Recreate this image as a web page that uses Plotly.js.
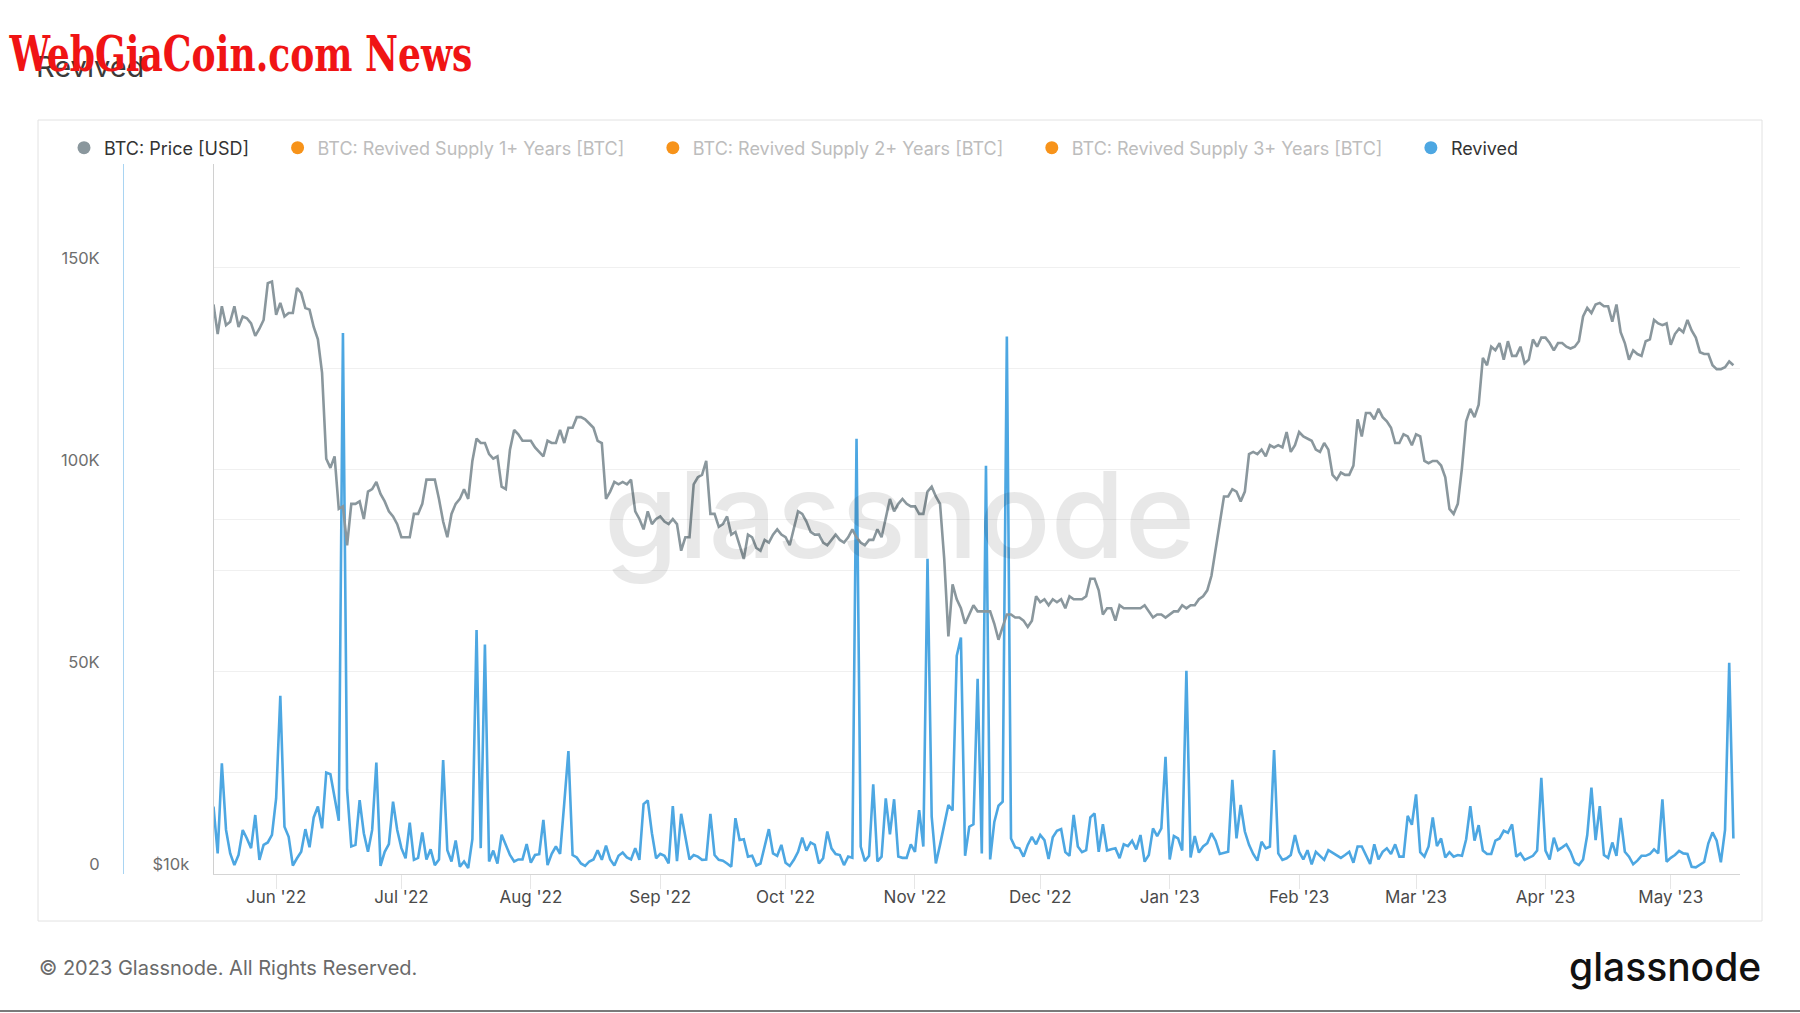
<!DOCTYPE html>
<html><head><meta charset="utf-8">
<script src="https://cdn.plot.ly/plotly-3.0.1.min.js"></script>
<style>html,body{margin:0;padding:0;background:#fff;}#chart{width:1800px;height:1013px;}</style>
</head><body><div id="chart"></div><script>
// ---- DATA ----
const startDate = '2022-05-17'; // first daily observation
const monthTicks = ['2022-06-01','2022-07-01','2022-08-01','2022-09-01','2022-10-01','2022-11-01','2022-12-01','2023-01-01','2023-02-01','2023-03-01','2023-04-01','2023-05-01'];
const monthLabels = ["Jun '22","Jul '22","Aug '22","Sep '22","Oct '22","Nov '22","Dec '22","Jan '23","Feb '23","Mar '23","Apr '23","May '23"];

// BTC: Price [USD], daily
const priceMay22 = [30400,28700,30300,29200,29400,30300,29100,29700,29600,29300,28600,29000,29500,31700,31800];
const priceJun22 = [29800,30500,29700,29900,29900,31400,31100,30200,30100,29100,28400,26600,22500,22100,22600,20400,20500,19000,20600,20600,20700,20000,21100,21200,21500,21000,20700,20300,20100,19800];
const priceJul22 = [19300,19300,19300,20200,20200,20600,21600,21600,21600,20800,19900,19300,20200,20600,20800,21200,20800,22400,23400,23200,23200,22700,22500,22600,21300,21200,22900,23800,23600,23300,23300];
const priceAug22 = [23300,23000,22800,22600,23300,23200,23200,23800,23200,23900,23900,24400,24400,24300,24100,23900,23300,23200,20800,21100,21500,21400,21500,21400,21600,20300,20000,19600,20300,19800,20000];
const priceSep22 = [20100,19900,19800,20000,19800,18800,19300,19300,21400,21700,21800,22400,20200,20200,19700,19800,20100,19400,19500,19000,18500,19400,19300,18900,18800,19200,19100,19400,19600,19400];
const priceOct22 = [19300,19000,19600,20300,20200,19900,19500,19400,19400,19100,19000,19200,19400,19200,19100,19300,19600,19300,19100,19000,19200,19200,19600,19300,20100,20800,20300,20600,20800,20600,20500];
const priceNov22 = [20500,20200,20200,21100,21300,20900,20600,18500,15900,17600,17100,16800,16300,16600,16900,16700,16700,16700,16700,16300,15800,16200,16600,16600,16500,16500,16400,16200,16400,17200];
const priceDec22 = [17000,17100,16900,17100,17000,17100,16800,17200,17100,17100,17100,17200,17800,17800,17400,16600,16800,16800,16400,16900,16800,16800,16800,16800,16800,16900,16700,16500,16600,16600,16500];
const priceJan23 = [16600,16700,16700,16900,16800,16900,16900,17100,17200,17400,17900,18800,19900,20900,20900,21200,21100,20700,21100,22700,22800,22700,22900,22600,23100,23000,23100,23000,23700,22800,23100];
const priceFeb23 = [23700,23500,23400,23300,22900,22800,23200,22900,21800,21600,21900,21800,21800,22200,24300,23500,24600,24600,24300,24800,24400,24200,23900,23200,23200,23600,23500,23100];
const priceMar23 = [23600,23500,22400,22300,22400,22400,22200,21700,20400,20200,20600,22100,24200,24800,24400,25000,27400,27000,28000,27800,28200,27300,28300,27500,27500,28000,27100,27300,28400,28000,28500];
const priceApr23 = [28500,28200,27800,28200,28200,28000,27900,28000,28300,29700,30200,29900,30400,30500,30300,30300,29400,30400,28800,28200,27300,27800,27600,27500,28300,28400,29500,29300,29200,29300];
const priceMay23 = [28100,28700,29000,28800,29500,28900,28500,27700,27600,27600,27000,26800,26800,26900,27200,27000];

// Revived [BTC], daily
const revivedMay22 = [16700,5100,27400,10900,5100,2200,4700,10900,8800,6400,14600,3500,7200,7800,9700];
const revivedJun22 = [18700,44100,11700,9200,2100,3900,5500,11100,6600,14000,16700,11300,25100,24700,18700,13200,133900,20800,6800,7200,18300,10100,5500,10900,27600,2000,5500,7400,17900,10900];
const revivedJul22 = [6400,3900,12700,3500,4000,10300,3600,6100,2200,3600,28200,5900,3100,8300,1800,3100,1500,8600,60400,6400,56800,3100,5800,2600,9700,7200,4700,3100,3600,3600,7400];
const revivedAug22 = [2800,4700,4900,13400,2200,5000,6800,5000,17500,30400,4700,4100,2600,2000,3100,3600,5900,3500,7000,3600,2100,4500,5300,4100,3600,6400,3500,17300,18200,10100,3900];
const revivedSep22 = [5000,4500,2600,16800,3200,14900,9100,3600,4700,4300,3500,3600,14900,4700,3500,3300,2600,1800,13800,8400,8600,4300,4500,2100,2600,6800,11100,5100,4500,7200];
const revivedOct22 = [2800,2000,3500,5500,9000,5800,7800,7200,2600,3900,10500,6350,4950,4700,2200,4300,4000,107700,6800,3200,4500,22200,3100,4300,18700,9800,18500,4300,4000,4000,7350];
const revivedNov22 = [5500,15800,6800,78000,14200,2600,7200,12200,17100,15700,54000,58500,4500,11700,12300,48300,5100,101000,3600,12900,16900,17900,133000,8800,6600,6350,4300,7200,9200,7350];
const revivedDec22 = [9650,8400,3700,9100,10700,11100,5400,4500,14600,6800,5400,5900,14000,15000,5500,12300,5800,6100,6350,3900,7350,6900,8250,6100,9650,3050,4700,11300,9400,11300,29000];
const revivedJan23 = [3600,9400,8800,5800,50300,4100,9400,5300,6800,7600,10100,8250,4950,5300,5500,23300,8800,17100,10500,7200,4950,3300,8000,6350,6800,30700,5100,3500,3900,4700,9650];
const revivedFeb23 = [5500,3600,5900,2400,5500,4500,3500,5900,5300,4500,4000,4700,5500,2800,6800,6800,4700,2500,7350,3600,5500,6350,4950,7350,4300,4300,14400,12200];
const revivedMar23 = [19700,5400,4300,6800,14000,6900,8800,4100,5400,4300,4700,4500,8600,16800,8250,12100,5800,4950,4950,8250,8800,10700,10200,12300,4300,5100,3500,4000,4500,5800,23800];
const revivedApr23 = [5800,3600,9000,5900,6600,7350,5500,2800,2200,3600,9650,21400,8400,16800,4700,4000,7800,4500,13900,5500,4300,2400,3300,4500,4500,4950,6100,5100,18500,3050];
const revivedMay23 = [4000,4700,5700,5100,4950,1800,1650,2400,2970,7600,10300,8250,2900,10900,52300,8800];

const seriesNames = ['BTC: Price [USD]','BTC: Revived Supply 1+ Years [BTC]','BTC: Revived Supply 2+ Years [BTC]','BTC: Revived Supply 3+ Years [BTC]','Revived'];

// ---- BUILD ----
const price = [].concat(priceMay22,priceJun22,priceJul22,priceAug22,priceSep22,priceOct22,priceNov22,priceDec22,priceJan23,priceFeb23,priceMar23,priceApr23,priceMay23);
const revived = [].concat(revivedMay22,revivedJun22,revivedJul22,revivedAug22,revivedSep22,revivedOct22,revivedNov22,revivedDec22,revivedJan23,revivedFeb23,revivedMar23,revivedApr23,revivedMay23);
const dates = [];
{
  const t0 = Date.parse(startDate + 'T00:00:00Z');
  for (let i = 0; i < price.length; i++) dates.push(new Date(t0 + i*86400000).toISOString().slice(0,10));
}

const W = 1800, H = 1013, L = 123, R = 60, T = 164, B = 139;
const PW = W - L - R, PH = H - T - B;
const px = v => (v - L) / PW;
const py = v => (H - B - v) / PH;

const FONT = 'Inter, "Noto Sans", sans-serif';
const GRAY = '#8a979d', BLUE = '#4da7e2', ORANGE = '#f7931a';
const pad = '\u00A0\u00A0\u00A0\u00A0\u2009';
const dim = s => '<span style="color:#bdbdbd">' + s + '</span>';

const traces = [
  {x: dates, y: price, yaxis: 'y2', type: 'scatter', mode: 'lines', line: {color: GRAY, width: 2.6}, showlegend: false, hoverinfo: 'skip'},
  {x: dates, y: revived, yaxis: 'y', type: 'scatter', mode: 'lines', line: {color: BLUE, width: 2.6}, showlegend: false, hoverinfo: 'skip'},
  // legend entries (hidden series have no drawn data, as in the reference)
  {x: [null], y: [null], yaxis: 'y2', mode: 'markers', name: seriesNames[0] + pad, marker: {color: GRAY, size: 13}},
  {x: [null], y: [null], yaxis: 'y', mode: 'markers', name: dim(seriesNames[1]) + pad, marker: {color: ORANGE, size: 13}},
  {x: [null], y: [null], yaxis: 'y', mode: 'markers', name: dim(seriesNames[2]) + pad, marker: {color: ORANGE, size: 13}},
  {x: [null], y: [null], yaxis: 'y', mode: 'markers', name: dim(seriesNames[3]) + pad, marker: {color: ORANGE, size: 13}},
  {x: [null], y: [null], yaxis: 'y', mode: 'markers', name: seriesNames[4], marker: {color: BLUE, size: 13}}
];

const layout = {
  width: W, height: H,
  margin: {l: L, r: R, t: T, b: B, pad: 0},
  paper_bgcolor: '#ffffff', plot_bgcolor: '#ffffff',
  font: {family: FONT, color: '#333'},
  showlegend: true,
  legend: {orientation: 'h', x: px(64), xanchor: 'left', y: py(148), yanchor: 'middle',
           font: {family: FONT, size: 18, color: '#333'}, bgcolor: 'rgba(0,0,0,0)', itemclick: false},
  xaxis: {type: 'date', range: ['2022-05-17', '2023-05-17 14:00'], domain: [px(213.5), 1], anchor: 'y',
          tickvals: monthTicks, ticktext: monthLabels, ticks: 'outside', ticklen: 14, tickcolor: '#e6e6e6', tickwidth: 1,
          ticklabelstandoff: -6,
          showline: true, linecolor: '#d5d5d5', linewidth: 1, showgrid: false, zeroline: false,
          tickfont: {family: FONT, size: 17, color: '#4a4a4a'}, fixedrange: true},
  yaxis: {range: [0, 175700], anchor: 'free', position: 0, side: 'left',
          tickvals: [0, 25000, 50000, 75000, 100000, 125000, 150000], ticktext: ['0', '', '50K', '', '100K', '', '150K'],
          showgrid: true, gridcolor: '#f0f0f0', gridwidth: 1, showline: true, linecolor: '#a9d4f2', linewidth: 1,
          zeroline: false, ticks: '', ticklabelstandoff: 20, ticklabelshift: -10,
          tickfont: {family: FONT, size: 16.5, color: '#6e6e6e'}, fixedrange: true},
  yaxis2: {type: 'log', range: [4, Math.log10(40000)], overlaying: 'y', anchor: 'x', side: 'left',
           tickvals: [10000, 20000, 40000], ticktext: ['$10k', '', ''],
           showgrid: true, gridcolor: '#f0f0f0', gridwidth: 1, showline: true, linecolor: '#d0d0d0', linewidth: 1,
           zeroline: false, ticks: '', ticklabelstandoff: 20, ticklabelshift: -10,
           tickfont: {family: FONT, size: 16.5, color: '#6e6e6e'}, fixedrange: true},
  shapes: [
    {type: 'rect', xref: 'paper', yref: 'paper', x0: px(38), x1: px(1762), y0: py(921), y1: py(120),
     line: {color: '#e2e2e2', width: 1}, fillcolor: 'rgba(0,0,0,0)', layer: 'below'},
    {type: 'line', xref: 'paper', yref: 'paper', x0: px(0), x1: px(1800), y0: py(1011), y1: py(1011),
     line: {color: '#7a7a7a', width: 2}}
  ],
  annotations: [
    {text: 'glassnode', xref: 'paper', yref: 'paper', x: px(899), y: py(514), xanchor: 'center', yanchor: 'middle',
     showarrow: false, font: {family: FONT, size: 120, color: 'rgba(0,0,0,0.09)', weight: 500}},
    {text: 'Revived', xref: 'paper', yref: 'paper', x: px(34), y: py(67), xanchor: 'left', yanchor: 'middle',
     showarrow: false, font: {family: FONT, size: 29, color: '#3a3a3a'}},
    {text: 'WebGiaCoin.com News', xref: 'paper', yref: 'paper', x: px(240.5), y: py(54), xanchor: 'center', yanchor: 'middle',
     showarrow: false, font: {family: '"DejaVu Serif Condensed", "DejaVu Serif", serif', size: 48, color: '#f01414', weight: 700}},
    {text: '\u00A9 2023 Glassnode. All Rights Reserved.', xref: 'paper', yref: 'paper', x: px(37), y: py(968), xanchor: 'left', yanchor: 'middle',
     showarrow: false, font: {family: FONT, size: 20, color: '#6a6a6a'}},
    {text: 'glassnode', xref: 'paper', yref: 'paper', x: px(1763), y: py(966), xanchor: 'right', yanchor: 'middle',
     showarrow: false, font: {family: FONT, size: 39, color: '#111', weight: 500}}
  ]
};

Plotly.newPlot('chart', traces, layout, {displayModeBar: false, staticPlot: true}).then(gd => {
  // the red banner uses a tightly condensed face: fit the real text to its measured width
  gd.querySelectorAll('text.annotation-text').forEach(t => {
    if (t.textContent === 'WebGiaCoin.com News') {
      t.setAttribute('textLength', '463');
      t.setAttribute('lengthAdjust', 'spacingAndGlyphs');
    }
  });
});
</script></body></html>
